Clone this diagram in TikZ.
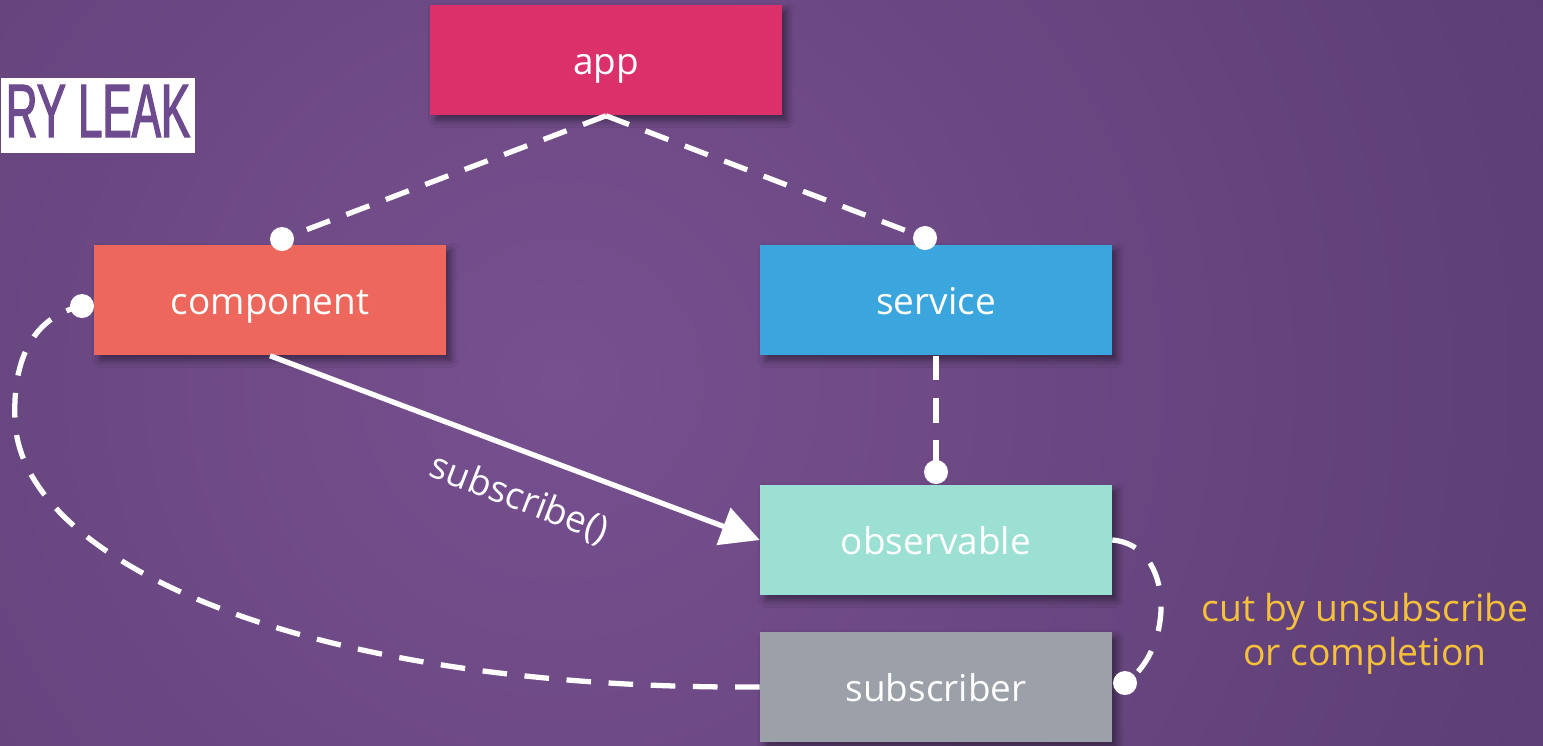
\documentclass[tikz,border=0pt]{standalone}
\usepackage{fontspec}
\setmainfont{Open Sans}
\newfontfamily\titlefont[FakeStretch=0.58,FakeBold=1.6]{Liberation Sans}
\usetikzlibrary{arrows.meta,shadows.blur}
\definecolor{bginner}{HTML}{77508F}
\definecolor{bgouter}{HTML}{5A3C72}
\definecolor{appc}{HTML}{DC306A}
\definecolor{compc}{HTML}{EE675C}
\definecolor{servc}{HTML}{3BA6DD}
\definecolor{obsc}{HTML}{9CE0D4}
\definecolor{subc}{HTML}{9CA0A8}
\definecolor{notec}{HTML}{F5C03A}
\definecolor{titlec}{HTML}{6E4A8E}
\tikzset{
  box/.style={rectangle, minimum width=3.51cm, minimum height=1.10cm,
    text=white, font=\fontsize{10.5}{12}\selectfont, inner sep=0pt,
    text height=9.5pt, text depth=1.2pt,
    blur shadow={shadow xshift=1.5pt, shadow yshift=-1.5pt, shadow blur radius=2pt, shadow opacity=45}},
  dot/.style={circle, fill=white, minimum size=0.24cm, inner sep=0pt},
  link/.style={white, line width=1.5pt, dash pattern=on 7pt off 5pt},
  solidlink/.style={white, line width=1.5pt, -{Triangle[length=11pt,width=11pt]}}
}
\begin{document}
\begin{tikzpicture}[x=0.01cm,y=-0.01cm]
  \useasboundingbox (0,0) rectangle (1543,745);
  \begin{scope}
    \clip (0,0) rectangle (1543,745);
    \shade[inner color=bginner, outer color=bgouter] (560,380) circle (1150);
  \end{scope}

  % title tab
  \node[fill=white, anchor=north west, minimum width=1.94cm, minimum height=0.75cm, inner sep=0pt] (tab) at (0,77) {};
  \node[anchor=base east, text=titlec, font=\titlefont\fontsize{21.5}{22}\selectfont, inner sep=0pt] (title) at (191,137) {RY LEAK};

  % boxes
  \node[box, fill=appc] (app) at (606,60) {app};
  \node[box, fill=compc] (comp) at (270,300) {component};
  \node[box, fill=servc] (serv) at (936,300) {service};
  \node[box, fill=obsc] (obs) at (936,540) {observable};
  \node[box, fill=subc] (sub) at (936,687) {subscriber};

  % end dots
  \node[dot] (cdot) at (282,239) {};
  \node[dot] (sdot) at (925,238) {};
  \node[dot] (odot) at (936,472) {};
  \node[dot] (ldot) at (82,306) {};
  \node[dot] (rdot) at (1125,683) {};

  % references
  \draw[link] (app.south) -- (cdot.center);
  \draw[link] (app.south) -- (sdot.center);
  \draw[link] (serv.south) -- (odot.center);
  \draw[link] (sub.west) .. controls (300,690) and (20,560) .. (15,420)
                         .. controls (12,350) and (40,315) .. (ldot.center);
  \draw[link, dash pattern=on 7pt off 6pt] (obs.east) .. controls (1175,545) and (1175,650) .. (rdot.center);

  % subscription arrow
  \draw[solidlink] (comp.south) -- (obs.west);
  \node[text=white, font=\fontsize{10.5}{12}\selectfont, rotate=-21] (sublabel) at (519,499) {subscribe()};

  % note
  \node[text=notec, font=\fontsize{10.6}{12.6}\selectfont, align=center] (note) at (1365,634) {cut by unsubscribe\\or completion};
\end{tikzpicture}
\end{document}
